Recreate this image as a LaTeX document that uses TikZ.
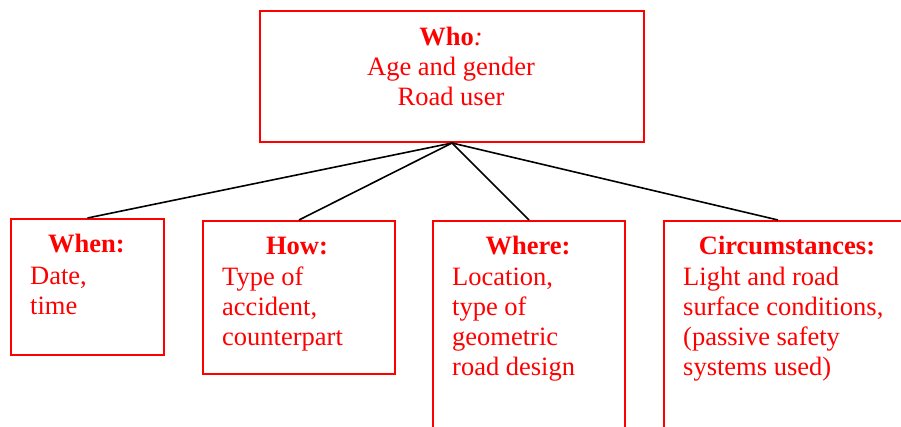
\documentclass[tikz,border=0pt]{standalone}
\usepackage{fontspec}
\setmainfont{Liberation Serif}
\definecolor{boxred}{RGB}{255,0,0}
\tikzset{
  box/.style={draw=boxred, line width=2pt, rectangle, inner sep=0pt, anchor=north west},
  txt/.style={text=boxred, font=\fontsize{26.5}{30}\selectfont, inner sep=0pt},
  head/.style={txt, anchor=base, font=\fontsize{26.5}{30}\selectfont\bfseries},
  body/.style={txt, anchor=base west, align=left},
  link/.style={draw=black, line width=1.6pt}
}
\begin{document}
\begin{tikzpicture}[x=1pt,y=-1pt]
\useasboundingbox (0,0) rectangle (901,427);
\clip (0,0) rectangle (901,427);
% boxes
\node[box, minimum width=153pt, minimum height=136pt] (when) at (10,218) {};
\node[box, minimum width=192pt, minimum height=153pt] (how) at (202,220) {};
\node[box, minimum width=192pt, minimum height=230pt] (where) at (432,220) {};
\node[box, minimum width=260pt, minimum height=230pt] (circ) at (663,220) {};
\node[box, minimum width=384pt, minimum height=131pt] (who) at (259,10) {};
\coordinate (circtop) at (778,220);
% texts
\node[txt, anchor=base] (whot) at (451,46) {\textbf{Who}\textit{:}};
\node[txt, anchor=base] (whol1) at (451,76) {Age and gender};
\node[txt, anchor=base] (whol2) at (451,106) {Road user};
\node[head] (whenh) at (86.5,253) {When:};
\node[body] (whenb) at (30,314) {Date,\\time};
\node[head] (howh) at (297,255) {How:};
\node[body] (howb) at (222,345) {Type of\\accident,\\counterpart};
\node[head] (whereh) at (528,255) {Where:};
\node[body] (whereb) at (452,375) {Location,\\type of\\geometric\\road design};
\node[head] (circh) at (787,255) {Circumstances:};
\node[body] (circb) at (683,375) {Light and road\\surface conditions,\\(passive safety\\systems used)};
% connectors
\draw[link] (who.south) -- (when.north);
\draw[link] (who.south) -- (how.north);
\draw[link] (who.south) -- (where.north);
\draw[link] (who.south) -- (circtop);
\end{tikzpicture}
\end{document}
